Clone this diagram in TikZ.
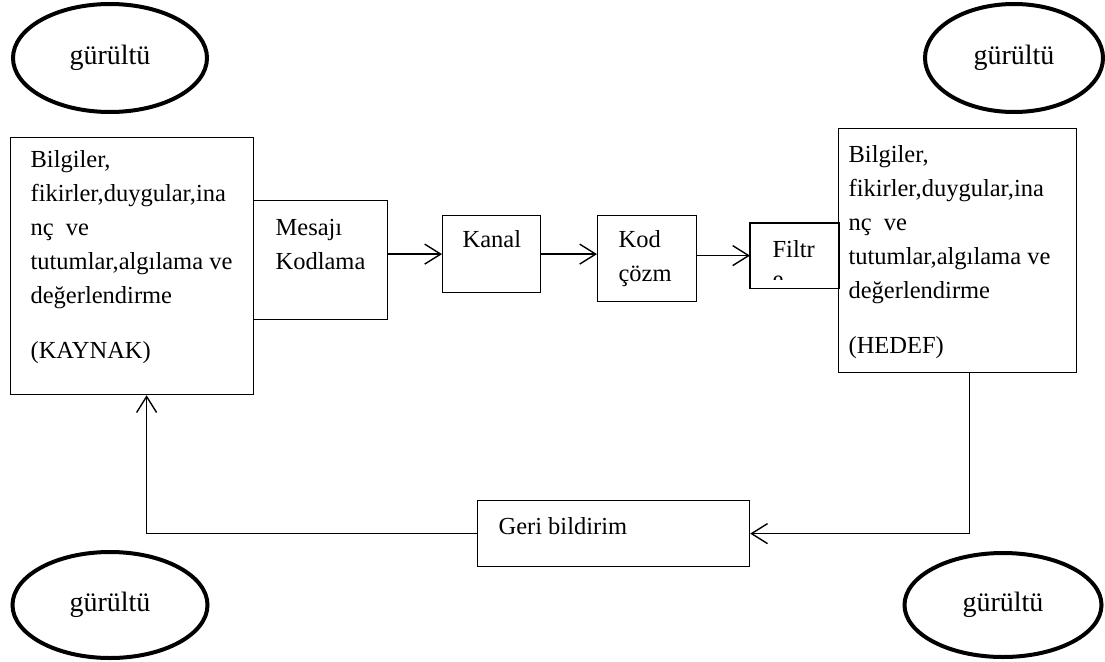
\documentclass[tikz,border=0pt]{standalone}
\usepackage{fontspec}
\setmainfont{Liberation Serif}
\usetikzlibrary{arrows.meta,shapes.geometric,positioning}
\newcommand{\metin}{\fontsize{24.5}{34}\selectfont}
\newcommand{\gurfont}{\fontsize{28}{34}\selectfont}
% width, height, left inset, top inset, text
\newcommand{\kutumetin}[5]{\parbox[t][#2][t]{#1}{\vspace*{#4}\leftskip=#3\relax\rightskip=0pt plus 1fill\relax #5}}

\begin{document}
\begin{tikzpicture}[x=1pt,y=-1pt,
    kutu/.style={draw,line width=1.2pt,inner sep=0pt,anchor=north west,font=\metin},
    gur/.style={draw,ellipse,line width=4pt,inner sep=0pt,font=\gurfont},
    ok/.style={line width=1.4pt,-{Straight Barb[length=16pt,width=20pt]}}]
    \useasboundingbox (0,0) rectangle (1105,661);

    \node[gur,minimum width=194pt,minimum height=108pt] (g1) at (110,58) {gürültü};
    \node[gur,minimum width=178pt,minimum height=108pt] (g2) at (1014,58) {gürültü};
    \node[gur,minimum width=195pt,minimum height=106pt] (g3) at (110,605) {gürültü};
    \node[gur,minimum width=197pt,minimum height=104pt] (g4) at (1003,605) {gürültü};

    \node[kutu] (kaynak) at (10,137) {\kutumetin{243pt}{257pt}{20pt}{13pt}{Bilgiler,\\fikirler,duygular,ina\\nç\ \ ve\\tutumlar,algılama ve\\değerlendirme\\[21pt](KAYNAK)}};
    \node[kutu] (mesaj) at (253,200) {\kutumetin{134pt}{119pt}{22pt}{19pt}{Mesajı\\Kodlama}};
    \node[kutu] (kanal) at (442,215) {\kutumetin{98pt}{77pt}{20pt}{15pt}{Kanal}};
    \node[kutu] (kod) at (597,215) {\kutumetin{99pt}{86pt}{21pt}{15pt}{Kod\\çözm}};
    \begin{scope}
        \clip (750,223) rectangle (838,279);
        \node[kutu,draw=none] (filtre) at (750,223) {\kutumetin{88pt}{64pt}{22pt}{17pt}{Filtr\\[-4pt]e}};
    \end{scope}
    \draw[line width=1.2pt] (filtre.north west) rectangle (filtre.south east);
    \node[kutu] (hedef) at (838,128) {\kutumetin{238pt}{244pt}{10pt}{17pt}{Bilgiler,\\fikirler,duygular,ina\\nç\ \ ve\\tutumlar,algılama ve\\değerlendirme\\[21pt](HEDEF)}};
    \node[kutu] (geri) at (477,500) {\kutumetin{272pt}{66pt}{21pt}{17pt}{Geri bildirim}};

    \draw[ok] (mesaj.east |- kanal.west) -- (kanal.west);
    \draw[ok] (kanal.east) -- (kanal.east -| kod.west);
    \draw[ok] (kod.east |- filtre.west) -- (filtre.west);
    \draw[ok] ([xshift=12pt]hedef.south) |- (geri.east);
    \draw[ok] (geri.west) -| ([xshift=14.5pt]kaynak.south);
\end{tikzpicture}
\end{document}
